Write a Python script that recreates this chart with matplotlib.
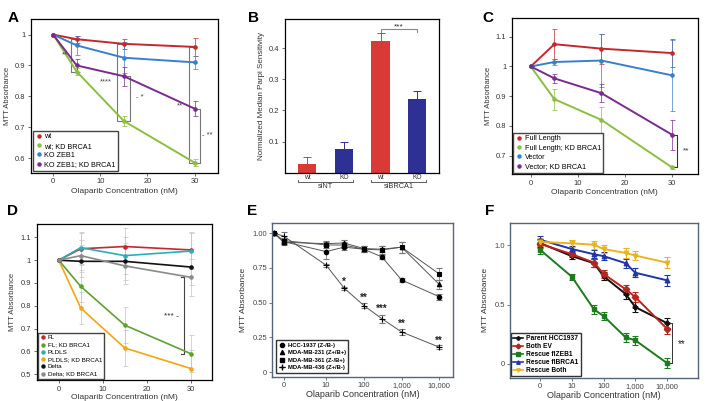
import numpy as np
import matplotlib.pyplot as plt
from matplotlib.lines import Line2D

plt.rcParams['font.family'] = ['Liberation Sans', 'DejaVu Sans']

# ---- panel A data
conc = [0, 5, 15, 30]
a_names = ["wt", "wt; KD BRCA1", "KO ZEB1", "KO ZEB1; KD BRCA1"]
a_wt = [1, 0.985, 0.97, 0.96]
a_wt_kd = [1, 0.88, 0.72, 0.585]
a_ko = [1, 0.965, 0.925, 0.91]
a_ko_kd = [1, 0.90, 0.865, 0.76]
a_err_wt = [0, 0.012, 0.016, 0.03]
a_err_wt_kd = [0, 0.012, 0.015, 0.012]
a_err_ko = [0, 0.03, 0.05, 0.02]
a_err_ko_kd = [0, 0.02, 0.03, 0.025]

# ---- panel B data
b_groups = ["siNT", "siBRCA1"]
b_labels = ["wt", "KO", "wt", "KO"]
b_vals = [0.028, 0.075, 0.422, 0.236]
b_err = [0.022, 0.025, 0.025, 0.025]

# ---- panel C data
c_names = ["Full Length", "Full Length; KD BRCA1", "Vector", "Vector; KD BRCA1"]
c_fl = [1, 1.075, 1.06, 1.045]
c_fl_kd = [1, 0.89, 0.82, 0.66]
c_vec = [1, 1.015, 1.02, 0.97]
c_vec_kd = [1, 0.96, 0.91, 0.77]
c_err_fl = [0, 0.05, 0.05, 0.048]
c_err_fl_kd = [0, 0.035, 0.045, 0.005]
c_err_vec = [0, 0.01, 0.09, 0.12]
c_err_vec_kd = [0, 0.015, 0.03, 0.05]

# ---- panel D data
d_names = ["FL", "FL; KD BRCA1", "PLDLS", "PLDLS; KD BRCA1", "Delta", "Delta; KD BRCA1"]
d_fl = [1, 1.05, 1.06, 1.045]
d_fl_kd = [1, 0.885, 0.715, 0.59]
d_pl = [1, 1.055, 1.02, 1.04]
d_pl_kd = [1, 0.79, 0.615, 0.525]
d_delta = [1, 0.995, 0.995, 0.97]
d_delta_kd = [1, 1.02, 0.975, 0.925]
d_err = [0, 0.07, 0.08, 0.08]

# ---- panel E data (x in nM, log axis; first two points are the untreated controls)
e_conc = [0.42, 0.74, 10, 30, 100, 300, 1000, 10000]
e_names = ["HCC-1937 (Z-/B-)", "MDA-MB-231 (Z+/B+)", "MDA-MB-361 (Z-/B+)", "MDA-MB-436 (Z+/B-)"]
e_hcc = [1.0, 0.94, 0.868, 0.90, 0.885, 0.83, 0.664, 0.543]
e_231 = [1.0, 0.935, 0.925, 0.93, 0.89, 0.885, 0.90, 0.632]
e_361 = [1.0, 0.947, 0.916, 0.915, 0.885, 0.88, 0.90, 0.707]
e_436 = [1.0, 0.98, 0.77, 0.605, 0.48, 0.385, 0.29, 0.18]
e_err_hcc = [0, 0.02, 0.05, 0.02, 0.02, 0.015, 0.015, 0.02]
e_err_231 = [0, 0.02, 0.02, 0.02, 0.02, 0.02, 0.04, 0.03]
e_err_361 = [0, 0.02, 0.02, 0.02, 0.02, 0.03, 0.04, 0.045]
e_err_436 = [0, 0.03, 0.01, 0.01, 0.02, 0.03, 0.02, 0.015]
e_ticks = [0.74, 10, 100, 1000, 10000]
e_ticklabels = ["0", "10", "100", "1,000", "10,000"]
e_stars = ["*", "**", "***", "**", "**"]
e_star_x = [30, 100, 300, 1000, 10000]
e_star_y = [0.652, 0.532, 0.453, 0.347, 0.227]

# ---- panel F data
f_conc = [1, 10, 50, 100, 500, 1000, 10000]
f_names = ["Parent HCC1937", "Both EV", "Rescue flZEB1", "Rescue flBRCA1", "Rescue Both"]
f_parent = [1.02, 0.91, 0.85, 0.74, 0.59, 0.48, 0.345]
f_ev = [1.014, 0.926, 0.855, 0.76, 0.63, 0.565, 0.297]
f_zeb = [0.963, 0.736, 0.46, 0.405, 0.224, 0.20, 0.008]
f_brca = [1.048, 0.97, 0.926, 0.91, 0.85, 0.77, 0.706]
f_both = [1.03, 1.018, 1.006, 0.97, 0.937, 0.915, 0.855]
f_err = [0.035, 0.027, 0.035, 0.035, 0.04, 0.04, 0.045]
f_ticks = [1, 10, 100, 1000, 10000]
f_ticklabels = ["0", "10", "100", "1,000", "10,000"]

red = "#c3282d"
green = "#8cbf3f"
blue = "#3b7fcb"
purple = "#7a2a8f"
txt = "#333333"

fig = plt.figure(figsize=(7.2, 4.01), dpi=100)
fs_tick = 5.4
fs_lab = 5.5


def bracket(ax, x, y0, y1, side, w, color="#777777", lw=0.8):
    # vertical significance bracket with end ticks pointing to `side`
    d = w if side == "right" else -w
    ax.plot([x + d, x, x, x + d], [y0, y0, y1, y1], color=color, lw=lw, clip_on=False)


def dot_legend(ax, colors, names, fs, pad=0.3):
    hs = [Line2D([], [], color=c, marker="o", ls="", ms=2.2) for c in colors]
    ax.legend(hs, names, loc="lower left", fontsize=fs, handlelength=0.8, handletextpad=0.4,
              borderpad=0.35, labelspacing=0.3, fancybox=False, edgecolor="#444444",
              framealpha=1, borderaxespad=pad)


def line_panel(ax, series, errs, colors, ylim, yticks, yticklabels, ebar_color=None, lw=1.4):
    for y, e, c in zip(series, errs, colors):
        ax.errorbar(conc, y, yerr=e, color=c, lw=lw, marker="o", ms=2.3,
                    ecolor=ebar_color or c, elinewidth=0.5, capsize=1.8, capthick=0.5)
    ax.set_ylim(*ylim)
    ax.set_xticks([0, 10, 20, 30])
    ax.set_yticks(yticks)
    ax.set_yticklabels(yticklabels)
    ax.tick_params(labelsize=fs_tick, length=2, width=0.5, colors=txt, pad=2)
    ax.set_xlabel("Olaparib Concentration (nM)", fontsize=fs_lab + 0.5, color=txt, labelpad=2)
    ax.set_ylabel("MTT Absorbance", fontsize=fs_lab, color=txt, labelpad=3)
    for s in ax.spines.values():
        s.set_linewidth(0.9)


# ---------------- A
ax = fig.add_axes([0.043, 0.569, 0.260, 0.384])
line_panel(ax, [a_wt, a_wt_kd, a_ko, a_ko_kd],
           [a_err_wt, a_err_wt_kd, a_err_ko, a_err_ko_kd],
           [red, green, blue, purple],
           (0.552, 1.051), [0.6, 0.7, 0.8, 0.9, 1], ["0.6", "0.7", "0.8", "0.9", "1"])
ax.set_xlim(-4.7, 35)
bracket(ax, 3.75, a_wt[1], a_wt_kd[1], "right", 1.2)
ax.text(2.4, 0.935, "**", fontsize=5.5, ha="center", va="center", color="#444444")
bracket(ax, 13.6, a_wt[2], a_wt_kd[2], "right", 1.4)
ax.text(11.2, 0.848, "****", fontsize=5.5, ha="center", va="center", color="#444444")
bracket(ax, 16.3, a_ko_kd[2], a_wt_kd[2], "left", 1.3)
ax.text(17.5, 0.795, "- *", fontsize=5.5, ha="left", va="center", color="#444444")
bracket(ax, 28.8, a_wt[3], a_wt_kd[3], "right", 1.2)
ax.text(26.8, 0.769, "**", fontsize=5.5, ha="center", va="center", color="#444444")
bracket(ax, 31.1, a_ko_kd[3], a_wt_kd[3], "left", 1.2)
ax.text(31.5, 0.673, "- **", fontsize=5.5, ha="left", va="center", color="#444444")
dot_legend(ax, [red, green, blue, purple], a_names, 5.2)
fig.text(0.010, 0.955, "A", fontsize=11, fontweight="bold", va="center")

# ---------------- B
ax = fig.add_axes([0.396, 0.569, 0.214, 0.384])
b_colors = ["#d93a36", "#2e3094", "#d93a36", "#2e3094"]
xpos = np.arange(len(b_vals))
ax.bar(xpos, b_vals, width=0.5, color=b_colors)
for x, v, e, c in zip(xpos, b_vals, b_err, b_colors):
    ax.errorbar(x, v, yerr=e, color=c, capsize=3, elinewidth=0.7, capthick=0.7)
ax.set_xlim(-0.6, 3.6)
ax.set_ylim(0, 0.494)
ax.set_xticks([])
ax.set_yticks([0.1, 0.2, 0.3, 0.4])
ax.tick_params(labelsize=fs_tick, length=2, width=0.5, colors=txt, pad=2)
ax.set_ylabel("Normalized Median Parpi Sensitivity", fontsize=5.8, color=txt, labelpad=3)
for s in ax.spines.values():
    s.set_linewidth(0.9)
ax.plot([2, 2, 3, 3], [0.452, 0.46, 0.46, 0.452], color="#888888", lw=0.8)
ax.text(2.5, 0.468, "***", fontsize=6, ha="center", va="center", color=txt)
for x, l in zip(xpos, b_labels):
    ax.text(x, -0.015, l, fontsize=4.8, ha="center", va="center", color=txt, clip_on=False)
for i, g in enumerate(b_groups):
    x0, x1 = 2 * i - 0.25, 2 * i + 1.25
    ax.plot([x0, x0, x1, x1], [-0.024, -0.03, -0.03, -0.024], color="#444444", lw=0.6, clip_on=False)
    ax.text(2 * i + 0.5, -0.045, g, fontsize=5.3, ha="center", va="center", color=txt)
fig.text(0.345, 0.955, "B", fontsize=11, fontweight="bold", va="center")

# ---------------- C
ax = fig.add_axes([0.711, 0.566, 0.258, 0.389])
line_panel(ax, [c_fl, c_fl_kd, c_vec, c_vec_kd],
           [c_err_fl, c_err_fl_kd, c_err_vec, c_err_vec_kd],
           [red, green, blue, purple],
           (0.638, 1.163), [0.7, 0.8, 0.9, 1, 1.1], ["0.7", "0.8", "0.9", "1", "1.1"])
ax.set_xlim(-4, 35.4)
bracket(ax, 31.0, c_vec_kd[3], c_fl_kd[3], "left", 0.8, color=txt)
ax.text(32.3, 0.715, "**", fontsize=6, ha="left", va="center", color=txt)
dot_legend(ax, [red, green, blue, purple], c_names, 5.2, pad=0.2)
fig.text(0.670, 0.955, "C", fontsize=11, fontweight="bold", va="center")

# ---------------- D
ax = fig.add_axes([0.051, 0.052, 0.244, 0.389])
d_colors = ["#c3282d", "#5ea12e", "#2aaeb8", "#f2a516", "#111111", "#8a8a8a"]
line_panel(ax, [d_fl, d_fl_kd, d_pl, d_pl_kd, d_delta, d_delta_kd],
           [d_err] * 6, d_colors,
           (0.474, 1.158), [0.5, 0.6, 0.7, 0.8, 0.9, 1, 1.1],
           ["0.5", "0.6", "0.7", "0.8", "0.9", "1", "1.1"], ebar_color="#c4c4c4", lw=1.2)
ax.set_xlim(-5, 34.9)
ax.xaxis.labelpad = 1
bracket(ax, 28.5, d_delta_kd[3], d_fl_kd[3], "left", 0.7, color="#444444")
ax.text(25.7, 0.751, "*** -", fontsize=6, ha="center", va="center", color="#222222")
dot_legend(ax, d_colors, d_names, 4.5, pad=0.2)
fig.text(0.010, 0.475, "D", fontsize=11, fontweight="bold", va="center")

# ---------------- E
ax = fig.add_axes([0.378, 0.060, 0.251, 0.384])
frame = "#56657a"
e_markers = ["o", "^", "s", "+"]
for y, e, m in zip([e_hcc, e_231, e_361, e_436],
                   [e_err_hcc, e_err_231, e_err_361, e_err_436], e_markers):
    ax.errorbar(e_conc, y, yerr=e, color="#555555", lw=0.7, marker=m, ms=3.2 if m != "+" else 5,
                mfc="black", mec="black", mew=0.8, ecolor="#777777", elinewidth=0.6,
                capsize=2, capthick=0.6)
ax.set_xscale("log")
ax.set_xlim(0.37, 23000)
ax.set_ylim(-0.034, 1.074)
ax.set_xticks(e_ticks)
ax.set_xticklabels(e_ticklabels)
ax.minorticks_off()
ax.set_yticks([0, 0.25, 0.5, 0.75, 1.0])
ax.set_yticklabels(["0", "0.25", "0.50", "0.75", "1.00"])
ax.tick_params(labelsize=5.5, length=2, width=0.5, colors="#444444", pad=1.5)
ax.set_xlabel("Olaparib Concentration (nM)", fontsize=6.5, color=txt, labelpad=1)
ax.set_ylabel("MTT Absorbance", fontsize=6, color=txt, labelpad=4)
for s in ax.spines.values():
    s.set_color(frame)
    s.set_linewidth(1.0)
for x, y, s in zip(e_star_x, e_star_y, e_stars):
    ax.text(x, y, s, fontsize=7, ha="center", va="center", fontweight="bold", color="#222222")
hs = [Line2D([], [], color="#555555", marker=m, ls="-" if m == "+" else "", ms=3 if m != "+" else 5,
             mfc="black", mec="black", lw=0.6) for m in e_markers]
ax.legend(hs, e_names, loc="lower left", prop={"size": 4.2, "weight": "bold"}, handlelength=1.0,
          handletextpad=0.5, borderpad=0.45, labelspacing=0.4, fancybox=False,
          edgecolor="#333333", framealpha=1, borderaxespad=0.7)
fig.text(0.343, 0.475, "E", fontsize=11, fontweight="bold", va="center")

# ---------------- F
ax = fig.add_axes([0.708, 0.058, 0.261, 0.386])
f_colors = ["#111111", "#b8251c", "#1e7a1e", "#1f35a8", "#e8b520"]
f_markers = ["P", "D", "s", "^", "v"]
for y, c, m in zip([f_parent, f_ev, f_zeb, f_brca, f_both], f_colors, f_markers):
    ax.errorbar(f_conc, y, yerr=f_err, color=c, lw=1.4, marker=m, ms=3.3,
                ecolor=c, elinewidth=0.8, capsize=2, capthick=0.8)
ax.set_xscale("log")
ax.set_xlim(0.11, 93000)
ax.set_ylim(-0.116, 1.19)
ax.set_xticks(f_ticks)
ax.set_xticklabels(f_ticklabels)
ax.minorticks_off()
ax.set_yticks([0, 0.5, 1.0])
ax.set_yticklabels(["0", "0.5", "1.0"])
ax.tick_params(labelsize=5.5, length=2, width=0.5, colors="#444444", pad=1.5)
ax.set_xlabel("Olaparib Concentration (nM)", fontsize=6.5, color=txt, labelpad=1)
ax.set_ylabel("MTT Absorbance", fontsize=6, color=txt, labelpad=4)
for s in ax.spines.values():
    s.set_color(frame)
    s.set_linewidth(1.0)
ax.plot([12000, 14800, 14800, 12000], [f_parent[-1], f_parent[-1], f_zeb[-1], f_zeb[-1]],
        color=txt, lw=0.7)
ax.text(30000, 0.17, "**", fontsize=7, ha="center", va="center", color="#222222")
hs = [Line2D([], [], color=c, marker=m, ms=2.5, lw=1.2) for c, m in zip(f_colors, f_markers)]
ax.legend(hs, f_names, loc="lower left", prop={"size": 4.8, "weight": "bold"}, handlelength=1.5,
          handletextpad=0.5, borderpad=0.3, labelspacing=0.15, fancybox=False,
          edgecolor="#333333", framealpha=1, borderaxespad=0.2)
fig.text(0.673, 0.475, "F", fontsize=11, fontweight="bold", va="center")

plt.savefig("out.png", dpi=100)
